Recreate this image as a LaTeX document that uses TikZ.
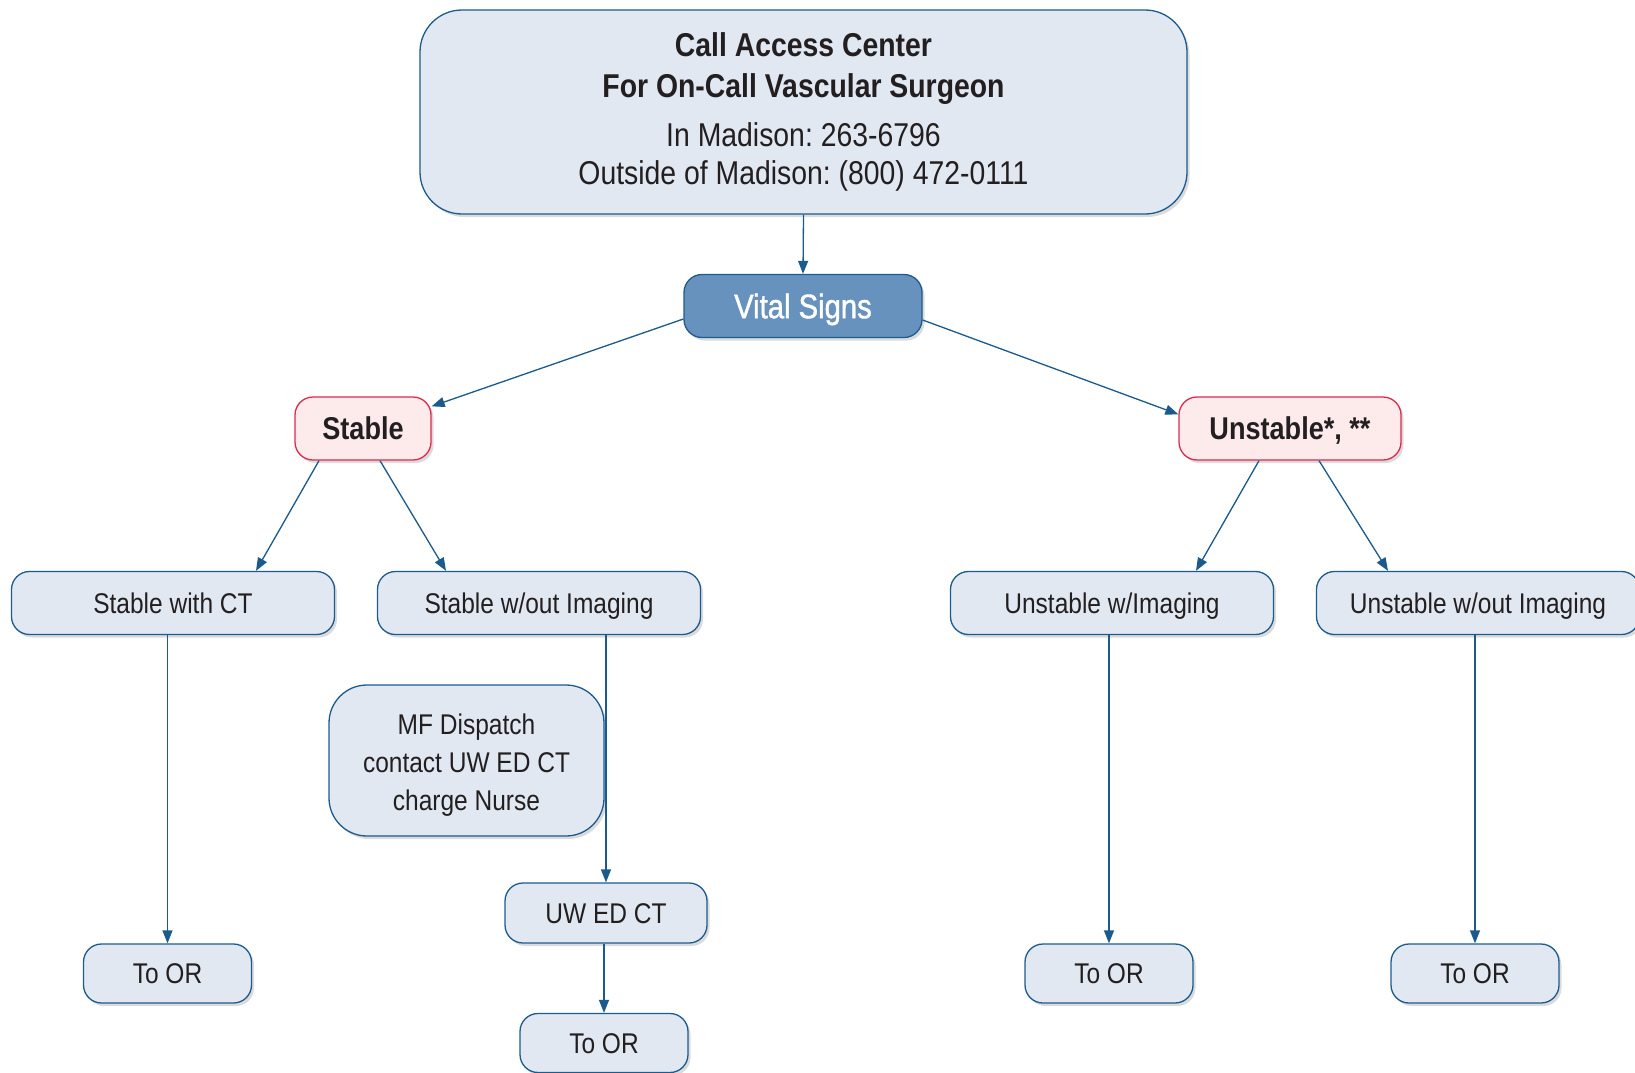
\documentclass[tikz,border=0pt]{standalone}
\usepackage{fontspec}
\setmainfont{Liberation Sans}[FakeStretch=0.86]
\newfontfamily\vsfont{Liberation Sans}[FakeStretch=0.86,FakeBold=1.2]
\usetikzlibrary{arrows.meta,shadows,calc}
\definecolor{boxfill}{HTML}{E1E8F2}
\definecolor{boxline}{HTML}{1C5B8E}
\definecolor{vsfill}{HTML}{6892BE}
\definecolor{pinkfill}{HTML}{FDEBEC}
\definecolor{pinkline}{HTML}{DC2A50}
\definecolor{txt}{HTML}{231F20}
\definecolor{arrowc}{HTML}{1A5A8C}
\frenchspacing
\begin{document}
\begin{tikzpicture}[x=1pt,y=-1pt,
  shadowed/.style={drop shadow={shadow xshift=2.5pt,shadow yshift=-3pt,opacity=0.2,fill=black!70}},
  box/.style={draw=boxline,fill=boxfill,line width=1.3pt,rounded corners=18pt,
    minimum width=323pt,minimum height=63pt,inner sep=0pt,text=txt,
    font=\fontsize{28.5}{38}\selectfont,align=center,shadowed},
  onebox/.style={box,text height=20.5pt,text depth=0pt},
  orbox/.style={onebox,minimum width=168pt,minimum height=59pt},
  pinkbox/.style={box,draw=pinkline,fill=pinkfill,font=\bfseries\fontsize{31.5}{38}\selectfont,
    minimum height=63pt,text height=22.8pt,text depth=0pt},
  arr/.style={draw=arrowc,line width=1.3pt,-{Triangle[length=13pt,width=10pt]}},
]
\useasboundingbox (0,0) rectangle (1635,1073);

% boxes
\node[box,rounded corners=42pt,minimum width=767pt,minimum height=204pt,
      font=\fontsize{33}{41}\selectfont] (top) at (803.5,112)
  {\textbf{Call Access Center}\\ \textbf{For On-Call Vascular Surgeon}\\[8pt]
   In Madison: 263-6796\\[-3pt] Outside of Madison: (800) 472-0111};

\node[box,fill=vsfill,text=white,minimum width=238pt,minimum height=63pt,
      font=\vsfont\fontsize{34}{40}\selectfont,text height=24.4pt,text depth=0pt] (vs) at (803,306) {Vital Signs};

\node[pinkbox,minimum width=136pt] (stable) at (363,428.5) {Stable};
\node[pinkbox,minimum width=222pt] (unst) at (1290,428.5) {Unstable*, **};

\node[onebox] (swct) at (173,603) {Stable with CT};
\node[onebox] (swi) at (539,603) {Stable w/out Imaging};
\node[onebox] (uwi) at (1112,603) {Unstable w/Imaging};
\node[onebox] (uwo) at (1478,603) {Unstable w/out Imaging};

\node[box,rounded corners=38pt,minimum width=275pt,minimum height=151pt] (mf) at (466.5,760.5)
  {\rule{0pt}{29pt}MF Dispatch\\contact UW ED CT\\charge Nurse};

\node[onebox,minimum width=202pt,minimum height=60pt] (uw) at (606,913) {UW ED CT};

\node[orbox] (or1) at (167.5,973.5) {To OR};
\node[orbox] (or2) at (604,1043) {To OR};
\node[orbox] (or3) at (1109,973.5) {To OR};
\node[orbox] (or4) at (1475,973.5) {To OR};

% connectors
\draw[arr] (top.south) -- (vs.north);
\draw[arr] ([yshift=-13pt]vs.west) -- ([yshift=-10pt]stable.north east);
\draw[arr] ([yshift=-14pt]vs.east) -- ([yshift=-18pt]unst.north west);
\draw[arr] ([xshift=-44pt]stable.south) -- ([xshift=83pt]swct.north);
\draw[arr] ([xshift=17pt]stable.south) -- ([xshift=-93pt]swi.north);
\draw[arr] ([xshift=-31pt]unst.south) -- ([xshift=84pt]uwi.north);
\draw[arr] ([xshift=29pt]unst.south) -- ([xshift=-90pt]uwo.north);

\draw[arr] (swct.south -| or1.north) -- (or1.north);
\draw[arr] (swi.south -| uw.north) -- (uw.north);
\draw[arr] (uw.south -| or2.north) -- (or2.north);
\draw[arr] (uwi.south -| or3.north) -- (or3.north);
\draw[arr] (uwo.south -| or4.north) -- (or4.north);
\end{tikzpicture}
\end{document}
